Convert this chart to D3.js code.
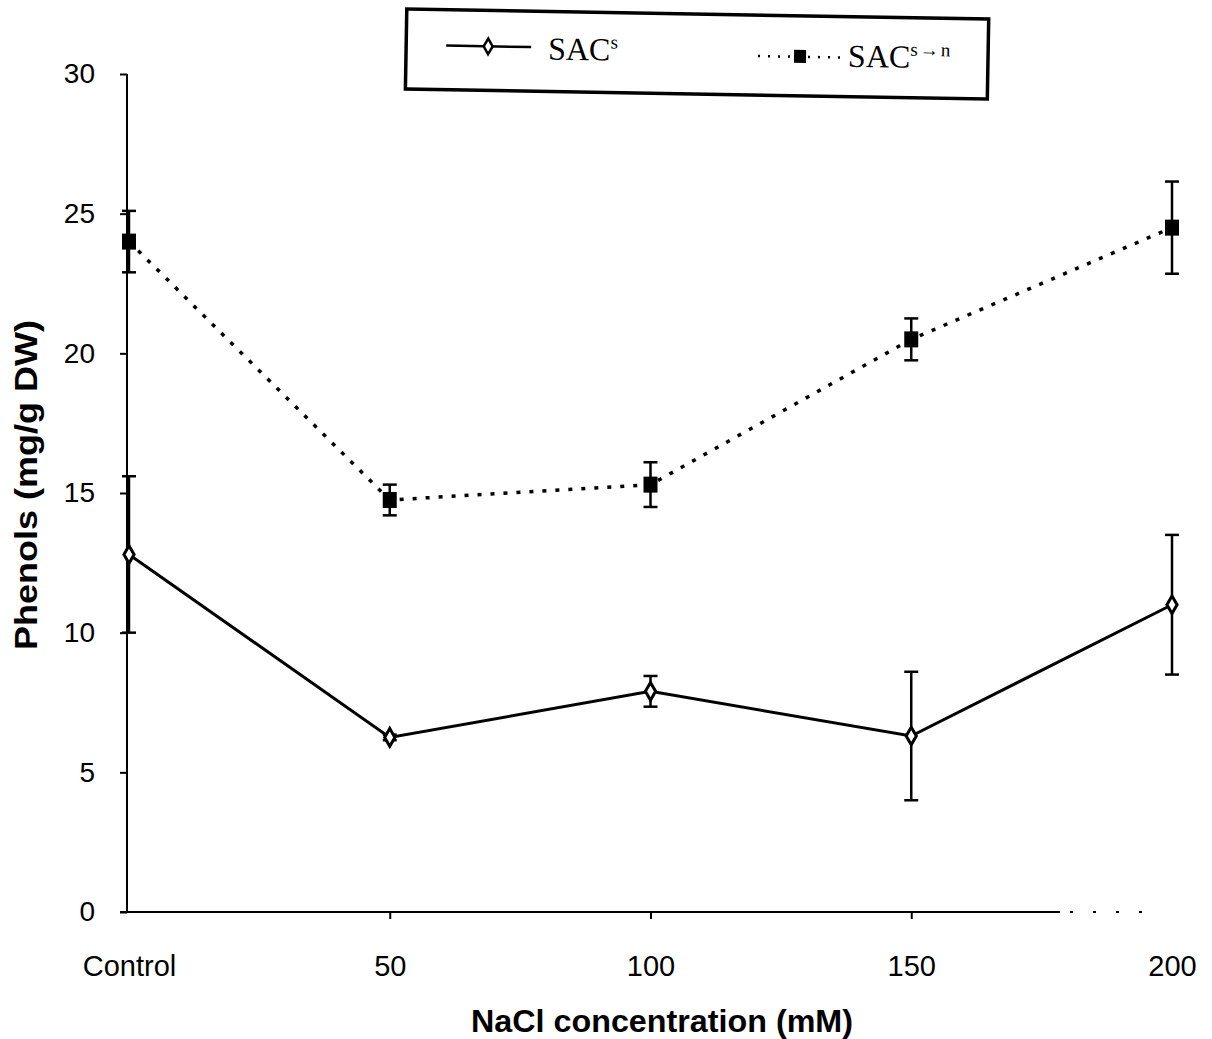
<!DOCTYPE html>
<html>
<head>
<meta charset="utf-8">
<script src="https://cdn.jsdelivr.net/npm/d3@7"></script>
<style>
  body { margin: 0; background: #fff; }
  svg { display: block; }
</style>
</head>
<body>
<div id="chart"></div>
<script>
// values
const categories = ["Control", "50", "100", "150", "200"];
const sacS = [12.8, 6.25, 7.9, 6.3, 11.0];
const sacSErr = [2.8, 0.1, 0.55, 2.3, 2.5];
const sacSN = [24.0, 14.75, 15.3, 20.5, 24.5];
const sacSNErr = [1.1, 0.55, 0.8, 0.75, 1.65];
const yTicks = [0, 5, 10, 15, 20, 25, 30];

const width = 1212, height = 1039;
const sans = "Liberation Sans, Arial, sans-serif";
const serif = "Liberation Serif, Times New Roman, serif";

const svg = d3.select("#chart").append("svg")
    .attr("width", width)
    .attr("height", height);

const x = d3.scalePoint().domain(categories).range([129, 1172]);
const y = d3.scaleLinear().domain([0, 30]).range([912, 74]);

// y axis
const yAxis = svg.append("g")
    .attr("transform", "translate(127,0)")
    .call(d3.axisLeft(y).tickValues(yTicks).tickSize(7).tickPadding(25));
yAxis.select(".domain").attr("stroke", "#000").attr("stroke-width", 2).attr("d", "M0,74V912");
yAxis.selectAll(".tick line").attr("stroke-width", 2);
yAxis.selectAll(".tick text")
    .style("font-family", sans)
    .style("font-size", "28px")
    .attr("fill", "#000");

// x axis
const xAxis = svg.append("g")
    .attr("transform", "translate(0,912)")
    .call(d3.axisBottom(x).tickSize(7).tickPadding(36));
xAxis.select(".domain").remove();
xAxis.append("line")
    .attr("x1", 120).attr("x2", 1060)
    .attr("stroke", "#000").attr("stroke-width", 2);
xAxis.append("line")
    .attr("x1", 1070).attr("x2", 1150)
    .attr("stroke", "#000").attr("stroke-width", 2)
    .attr("stroke-dasharray", "3,20");
xAxis.selectAll(".tick line").attr("stroke-width", 2)
    .attr("display", (d, i) => i === 0 || i === 4 ? "none" : null);
xAxis.selectAll(".tick text")
    .style("font-family", sans)
    .style("font-size", "29px")
    .attr("fill", "#000");

// axis titles
svg.append("text")
    .attr("transform", "translate(37,485) rotate(-90)")
    .attr("text-anchor", "middle")
    .attr("textLength", 330)
    .attr("lengthAdjust", "spacingAndGlyphs")
    .style("font-family", sans)
    .style("font-weight", "bold")
    .style("font-size", "31px")
    .text("Phenols  (mg/g DW)");

svg.append("text")
    .attr("x", 662).attr("y", 1032)
    .attr("text-anchor", "middle")
    .attr("textLength", 382)
    .attr("lengthAdjust", "spacingAndGlyphs")
    .style("font-family", sans)
    .style("font-weight", "bold")
    .style("font-size", "31px")
    .text("NaCl concentration (mM)");

const line = d3.line()
    .x((d, i) => x(categories[i]))
    .y(d => y(d));

function drawErrors(vals, errs) {
    const g = svg.append("g").attr("stroke", "#000").attr("stroke-width", 2.5);
    vals.forEach((v, i) => {
        const cx = x(categories[i]);
        const lo = y(v - errs[i]), hi = y(v + errs[i]);
        g.append("line").attr("x1", cx).attr("x2", cx).attr("y1", lo).attr("y2", hi);
        g.append("line").attr("x1", cx - 7).attr("x2", cx + 7).attr("y1", lo).attr("y2", lo);
        g.append("line").attr("x1", cx - 7).attr("x2", cx + 7).attr("y1", hi).attr("y2", hi);
    });
}

// SAC s->n : dotted line with filled squares
drawErrors(sacSN, sacSNErr);
svg.append("path")
    .datum(sacSN)
    .attr("d", line)
    .attr("fill", "none")
    .attr("stroke", "#000")
    .attr("stroke-width", 3.5)
    .attr("stroke-dasharray", "4,9");
svg.selectAll(".sq")
    .data(sacSN)
    .enter().append("rect")
    .attr("x", (d, i) => x(categories[i]) - 7)
    .attr("y", d => y(d) - 8)
    .attr("width", 14).attr("height", 16)
    .attr("fill", "#000");

// SAC s : solid line with open diamonds
drawErrors(sacS, sacSErr);
svg.append("path")
    .datum(sacS)
    .attr("d", line)
    .attr("fill", "none")
    .attr("stroke", "#000")
    .attr("stroke-width", 3);
const diamond = d3.symbol().type(d3.symbolDiamond).size(90);
svg.selectAll(".dm")
    .data(sacS)
    .enter().append("path")
    .attr("d", diamond)
    .attr("transform", (d, i) => `translate(${x(categories[i])},${y(d)})`)
    .attr("fill", "#fff")
    .attr("stroke", "#000")
    .attr("stroke-width", 3);

// legend box (slightly tilted like the scan)
const lg = svg.append("g").attr("transform", "translate(0,5) rotate(1.0,697,52)");
lg.append("rect")
    .attr("x", 406).attr("y", 9)
    .attr("width", 582).attr("height", 80)
    .attr("fill", "none")
    .attr("stroke", "#000")
    .attr("stroke-width", 3.5);
lg.append("line")
    .attr("x1", 446).attr("x2", 531).attr("y1", 45).attr("y2", 45)
    .attr("stroke", "#000").attr("stroke-width", 2.5);
lg.append("path")
    .attr("d", d3.symbol().type(d3.symbolDiamond).size(70))
    .attr("transform", "translate(488,45)")
    .attr("fill", "#fff").attr("stroke", "#000").attr("stroke-width", 2.5);
const t1 = lg.append("text")
    .attr("x", 548).attr("y", 57)
    .style("font-family", serif)
    .style("font-size", "32px");
t1.append("tspan").text("SAC");
t1.append("tspan").attr("dy", -12).style("font-size", "19px").text("s");

lg.append("line")
    .attr("x1", 758).attr("x2", 840).attr("y1", 50).attr("y2", 50)
    .attr("stroke", "#000").attr("stroke-width", 2.5)
    .attr("stroke-dasharray", "2,8");
lg.append("rect")
    .attr("x", 794).attr("y", 43).attr("width", 12).attr("height", 13)
    .attr("fill", "#000");
const t2 = lg.append("text")
    .attr("x", 848).attr("y", 59)
    .style("font-family", serif)
    .style("font-size", "32px");
t2.append("tspan").text("SAC");
t2.append("tspan").attr("dy", -12).style("font-size", "19px")
    .attr("letter-spacing", "2px").text("s→n");
</script>
</body>
</html>
